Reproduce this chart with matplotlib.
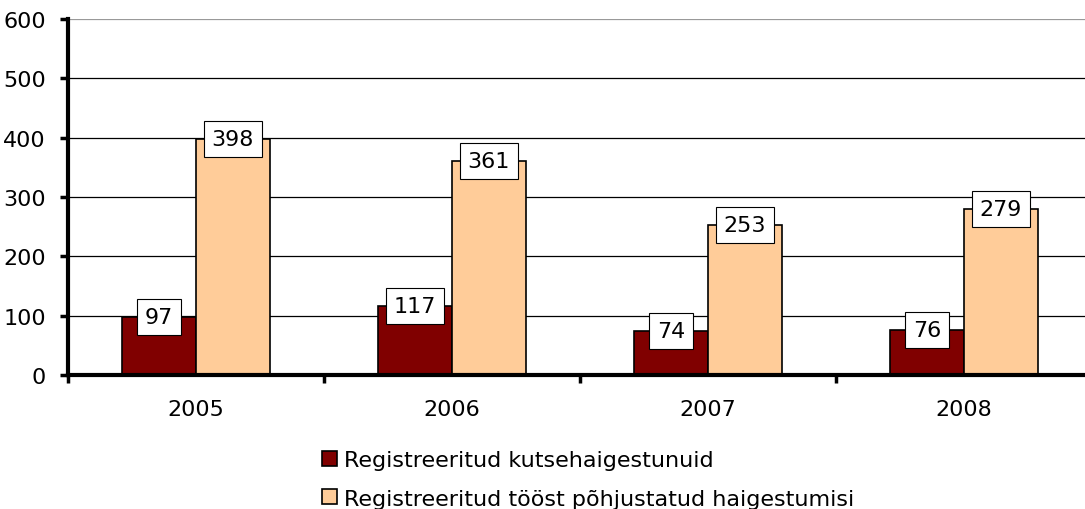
import matplotlib.pyplot as plt
import numpy as np

# donnees
annees = ['2005', '2006', '2007', '2008']
kutse = [97, 117, 74, 76]
toost = [398, 361, 253, 279]
noms = ['Registreeritud kutsehaigestunuid',
        'Registreeritud tööst põhjustatud haigestumisi']

plt.rcParams['font.family'] = ['DejaVu Sans']
fs = 16

fig = plt.figure(figsize=(10.85, 5.1), dpi=100)
ax = fig.add_axes([68/1085, 134/510, 1024/1085, 356/510])

x = np.arange(len(annees))
w = 0.288
b1 = ax.bar(x - w/2, kutse, w, color='#800000', edgecolor='black', linewidth=1.2, zorder=3)
b2 = ax.bar(x + w/2, toost, w, color='#FFCC99', edgecolor='black', linewidth=1.2, zorder=3)

# etiquettes dans des boites blanches
for barres in (b1, b2):
    for r in barres:
        h = r.get_height()
        ax.text(r.get_x() + r.get_width()/2, h, str(int(h)), ha='center', va='center',
                fontsize=fs, zorder=5,
                bbox=dict(boxstyle='square,pad=0.36', fc='white', ec='black', lw=0.8))

ax.set_ylim(0, 600)
ax.set_xlim(-0.5, 3.5)
ax.set_yticks(range(0, 601, 100))
for y in range(100, 601, 100):
    ax.axhline(y, color='black' if y < 600 else '#999999', lw=0.9, zorder=1)

ax.set_xticks(x)
ax.set_xticklabels(annees)
ax.set_xticks(np.arange(-0.5, 4, 1), minor=True)
ax.tick_params(axis='x', which='major', length=0, pad=17, labelsize=fs)
ax.tick_params(axis='x', which='minor', length=6, width=2.5, direction='out')
ax.tick_params(axis='y', length=6, width=2.5, direction='out', labelsize=fs, pad=10)

for s in ('top', 'right'):
    ax.spines[s].set_visible(False)
ax.spines['left'].set_linewidth(3)
ax.spines['bottom'].set_linewidth(3)
ax.spines['left'].set_zorder(6)
ax.spines['bottom'].set_zorder(6)

fig.legend([b1, b2], noms, loc='upper left', bbox_to_anchor=(311/1085, 1 - 440/510),
           frameon=False, fontsize=fs, borderpad=0, handlelength=0.65, handleheight=0.65,
           handletextpad=0.35, labelspacing=0.83)

fig.savefig('out.png', dpi=100)
